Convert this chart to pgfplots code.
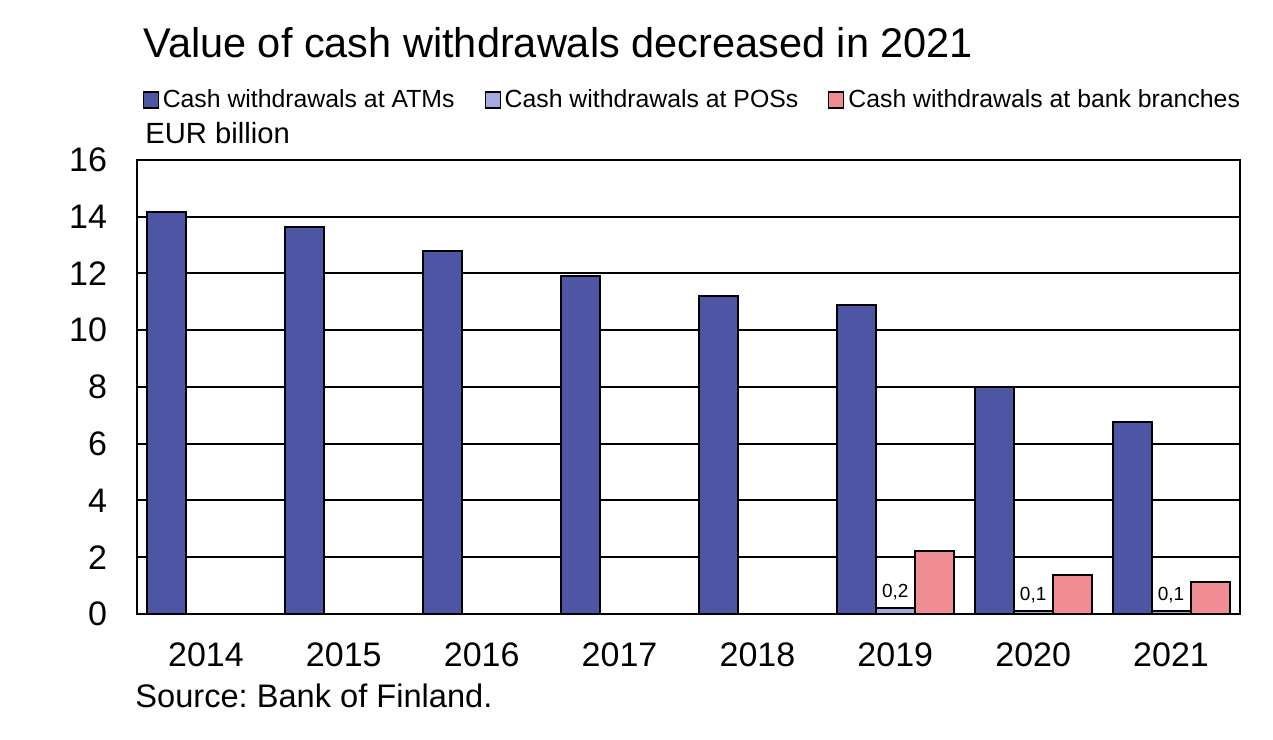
\documentclass[border=0pt]{standalone}
\usepackage{pgfplots}
\pgfplotsset{compat=1.18}
\usepackage{fontspec}
\setmainfont{Liberation Sans}
\frenchspacing
\definecolor{atm}{RGB}{79,85,165}
\definecolor{pos}{RGB}{165,170,222}
\definecolor{bank}{RGB}{240,140,148}
\begin{document}
\begin{tikzpicture}[x=0.5pt,y=0.5pt]
\useasboundingbox (0,0) rectangle (1273,739);
\begin{axis}[
  at={(137*0.5pt,125*0.5pt)}, anchor=south west,
  scale only axis, width=551.5pt, height=227pt,
  xmin=-0.5, xmax=7.5, ymin=0, ymax=16,
  xtick={0,...,7},
  xticklabels={2014,2015,2016,2017,2018,2019,2020,2021},
  ytick={0,2,...,16},
  ymajorgrids, grid style={black, line width=1pt},
  axis line style={black, line width=1pt},
  major tick length=0pt,
  tick label style={font=\fontsize{17}{19}\selectfont},
  /pgf/number format/assume math mode=true,
  xticklabel style={yshift=-11pt},
  yticklabel style={xshift=-11.5pt},
  ybar, bar width=19.5pt,
  legend columns=3,
  legend style={draw=none, fill=none, at={(1.004,1.132)}, anchor=east,
    font=\fontsize{12.4}{14}\selectfont, inner sep=0pt,
    /tikz/every even column/.append style={column sep=13pt}},
  legend image code/.code={\draw[#1, line width=0.6pt] (0pt,-4pt) rectangle (7.5pt,4pt);},
  nodes near coords style={font=\fontsize{9.5}{10}\selectfont, black},
]
\addplot[fill=atm, draw=black, line width=1pt, bar shift=-19.5pt] coordinates {
(0,14.17) (1,13.64) (2,12.79) (3,11.91) (4,11.21) (5,10.89) (6,8.0) (7,6.77)};
\addlegendentry{Cash withdrawals at ATMs}
\addplot[fill=pos, draw=black, line width=1pt, bar shift=0pt,
  nodes near coords, point meta=explicit symbolic,
  every node near coord/.append style={anchor=south, yshift=0.5pt}] coordinates {
(5,0.2) [0{,}2] (6,0.1) [0{,}1] (7,0.1) [0{,}1]};
\addlegendentry{Cash withdrawals at POSs}
\addplot[fill=bank, draw=black, line width=1pt, bar shift=19.5pt] coordinates {
(5,2.22) (6,1.37) (7,1.13)};
\addlegendentry{Cash withdrawals at bank branches}
\end{axis}
\node[anchor=west, inner sep=0pt, font=\fontsize{20.75}{23}\selectfont] at (143,696) {Value of cash withdrawals decreased in 2021};
\node[anchor=west, inner sep=0pt, font=\fontsize{14.6}{16}\selectfont] at (145,606) {EUR billion};
\node[anchor=west, inner sep=0pt, font=\fontsize{16.3}{18}\selectfont] at (135,43) {Source: Bank of Finland.};
\end{tikzpicture}
\end{document}
